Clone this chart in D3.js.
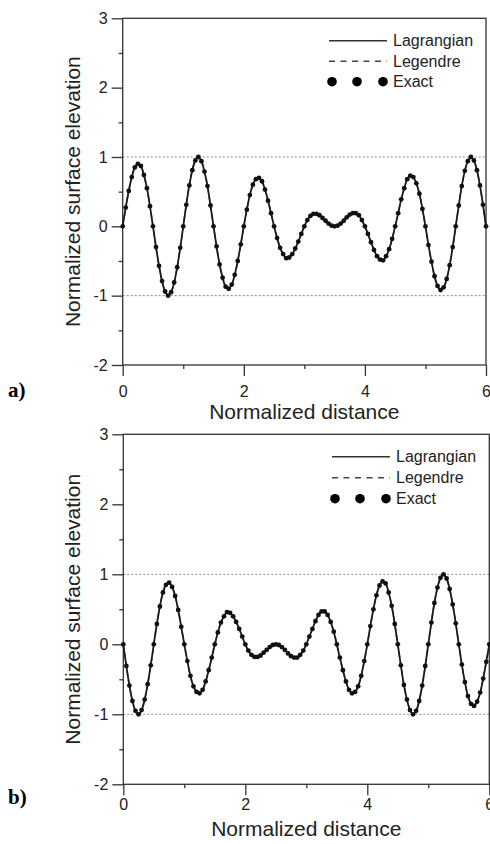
<!DOCTYPE html>
<html>
<head>
<meta charset="utf-8">
<script src="https://cdn.jsdelivr.net/npm/d3@7"></script>
<style>
  body { margin: 0; background: #fff; }
</style>
</head>
<body>
<div id="chart"></div>
<script>
// sample positions along the normalized distance axis
const distance = [
  0, 0.05, 0.1, 0.15, 0.2, 0.25, 0.3, 0.35, 0.4, 0.45,
  0.5, 0.55, 0.6, 0.65, 0.7, 0.75, 0.8, 0.85, 0.9, 0.95,
  1, 1.05, 1.1, 1.15, 1.2, 1.25, 1.3, 1.35, 1.4, 1.45,
  1.5, 1.55, 1.6, 1.65, 1.7, 1.75, 1.8, 1.85, 1.9, 1.95,
  2, 2.05, 2.1, 2.15, 2.2, 2.25, 2.3, 2.35, 2.4, 2.45,
  2.5, 2.55, 2.6, 2.65, 2.7, 2.75, 2.8, 2.85, 2.9, 2.95,
  3, 3.05, 3.1, 3.15, 3.2, 3.25, 3.3, 3.35, 3.4, 3.45,
  3.5, 3.55, 3.6, 3.65, 3.7, 3.75, 3.8, 3.85, 3.9, 3.95,
  4, 4.05, 4.1, 4.15, 4.2, 4.25, 4.3, 4.35, 4.4, 4.45,
  4.5, 4.55, 4.6, 4.65, 4.7, 4.75, 4.8, 4.85, 4.9, 4.95,
  5, 5.05, 5.1, 5.15, 5.2, 5.25, 5.3, 5.35, 5.4, 5.45,
  5.5, 5.55, 5.6, 5.65, 5.7, 5.75, 5.8, 5.85, 5.9, 5.95,
  6
];

// panel a) surface elevation
const elevationA = [
  0, 0.27, 0.51, 0.71, 0.85, 0.90, 0.87, 0.74, 0.55, 0.29,
  0, -0.30, -0.57, -0.79, -0.94, -1.00, -0.95, -0.81, -0.59, -0.31,
  0, 0.31, 0.59, 0.81, 0.95, 1.00, 0.94, 0.79, 0.58, 0.30,
  0, -0.29, -0.55, -0.74, -0.87, -0.90, -0.84, -0.70, -0.50, -0.26,
  0, 0.24, 0.45, 0.60, 0.68, 0.70, 0.65, 0.53, 0.37, 0.19,
  0, -0.17, -0.31, -0.40, -0.46, -0.45, -0.40, -0.32, -0.22, -0.11,
  0, 0.09, 0.15, 0.18, 0.18, 0.16, 0.12, 0.08, 0.04, 0.01,
  0, 0.01, 0.04, 0.08, 0.13, 0.17, 0.19, 0.19, 0.16, 0.09,
  0, -0.11, -0.23, -0.34, -0.43, -0.48, -0.49, -0.43, -0.33, -0.18,
  0, 0.19, 0.39, 0.55, 0.68, 0.73, 0.71, 0.62, 0.47, 0.25,
  0, -0.27, -0.51, -0.72, -0.86, -0.92, -0.88, -0.76, -0.56, -0.30,
  0, 0.30, 0.58, 0.80, 0.94, 1.00, 0.95, 0.81, 0.59, 0.31,
  0
];

// panel b) surface elevation
const elevationB = [
  0, -0.31, -0.59, -0.81, -0.95, -1.00, -0.94, -0.79, -0.57, -0.30,
  0, 0.29, 0.54, 0.74, 0.85, 0.88, 0.82, 0.69, 0.49, 0.25,
  0, -0.24, -0.45, -0.60, -0.68, -0.70, -0.65, -0.53, -0.37, -0.19,
  0, 0.17, 0.31, 0.40, 0.46, 0.45, 0.40, 0.32, 0.22, 0.11,
  0, -0.09, -0.15, -0.18, -0.18, -0.16, -0.12, -0.08, -0.04, -0.01,
  0, -0.01, -0.04, -0.08, -0.13, -0.17, -0.19, -0.19, -0.15, -0.09,
  0, 0.11, 0.22, 0.33, 0.42, 0.47, 0.47, 0.42, 0.32, 0.18,
  0, -0.19, -0.37, -0.53, -0.65, -0.70, -0.68, -0.60, -0.45, -0.24,
  0, 0.26, 0.50, 0.70, 0.84, 0.90, 0.87, 0.74, 0.55, 0.29,
  0, -0.30, -0.58, -0.79, -0.94, -1.00, -0.95, -0.81, -0.59, -0.31,
  0, 0.31, 0.59, 0.81, 0.95, 1.00, 0.94, 0.79, 0.57, 0.30,
  0, -0.29, -0.54, -0.74, -0.85, -0.88, -0.82, -0.69, -0.49, -0.25,
  0
];

const xMajorTicks = [0, 2, 4, 6];
const xMinorTicks = [1, 3, 5];
const yMajorTicks = [-2, -1, 0, 1, 2, 3];
const yMinorTicks = [-1.5, -0.5, 0.5, 1.5, 2.5];
const refLevels = [-1, 1];
const legendLabels = ["Lagrangian", "Legendre", "Exact"];

const width = 490;
const height = 844;
const font = "'Liberation Sans', Arial, sans-serif";
const axisColor = "#333";

const svg = d3.select("#chart")
  .append("svg")
  .attr("width", width)
  .attr("height", height);

const panels = [
  { tag: "a)", values: elevationA, left: 122.7, right: 486, top: 18.3, bottom: 365,
    labelGap: 10, titleY: 419, tagY: 397, legendX: 329, legendY: 40.7, legendStep: 20.5 },
  { tag: "b)", values: elevationB, left: 123.3, right: 489.3, top: 434.3, bottom: 784.3,
    labelGap: 3, titleY: 836, tagY: 804, legendX: 332, legendY: 456.7, legendStep: 21 }
];

function drawPanel(p) {
  const x = d3.scaleLinear().domain([0, 6]).range([p.left, p.right]);
  const y = d3.scaleLinear().domain([-2, 3]).range([p.bottom, p.top]);
  const g = svg.append("g");

  // dotted lines at +1 / -1
  g.selectAll("line.ref")
    .data(refLevels)
    .join("line")
    .attr("class", "ref")
    .attr("x1", p.left).attr("x2", p.right)
    .attr("y1", d => y(d)).attr("y2", d => y(d))
    .attr("stroke", "#8a8a8a")
    .attr("stroke-width", 1)
    .attr("stroke-dasharray", "2,2");

  // minor ticks
  g.append("g")
    .attr("transform", `translate(0,${p.bottom})`)
    .call(d3.axisBottom(x).tickValues(xMinorTicks).tickSize(4).tickSizeOuter(0).tickFormat(""));
  g.append("g")
    .attr("transform", `translate(${p.left},0)`)
    .call(d3.axisLeft(y).tickValues(yMinorTicks).tickSize(4).tickSizeOuter(0).tickFormat(""));

  // major ticks with labels
  g.append("g")
    .attr("transform", `translate(0,${p.bottom})`)
    .call(d3.axisBottom(x).tickValues(xMajorTicks).tickSize(11).tickSizeOuter(0)
      .tickPadding(p.labelGap).tickFormat(d => String(d)));
  g.append("g")
    .attr("transform", `translate(${p.left},0)`)
    .call(d3.axisLeft(y).tickValues(yMajorTicks).tickSize(11).tickSizeOuter(0)
      .tickPadding(4).tickFormat(d => String(d)));

  g.selectAll(".domain").remove();
  g.selectAll(".tick line").attr("stroke", axisColor).attr("stroke-width", 1.3);
  g.selectAll(".tick text")
    .attr("font-family", font)
    .attr("font-size", 16)
    .attr("fill", "#222");

  // frame
  g.append("rect")
    .attr("x", p.left).attr("y", p.top)
    .attr("width", p.right - p.left).attr("height", p.bottom - p.top)
    .attr("fill", "none")
    .attr("stroke", axisColor)
    .attr("stroke-width", 1.3);

  const pts = distance.map((d, i) => [d, p.values[i]]);
  const line = d3.line()
    .x(d => x(d[0]))
    .y(d => y(d[1]))
    .curve(d3.curveCatmullRom);

  // Legendre (dashed) under Lagrangian (solid); they coincide
  g.append("path")
    .attr("d", line(pts))
    .attr("fill", "none")
    .attr("stroke", "#444")
    .attr("stroke-width", 1.4)
    .attr("stroke-dasharray", "5,4");
  g.append("path")
    .attr("d", line(pts))
    .attr("fill", "none")
    .attr("stroke", "#1a1a1a")
    .attr("stroke-width", 1.8);

  // exact solution points
  g.selectAll("circle.exact")
    .data(pts)
    .join("circle")
    .attr("class", "exact")
    .attr("cx", d => x(d[0]))
    .attr("cy", d => y(d[1]))
    .attr("r", 2.4)
    .attr("fill", "#111");

  // axis titles
  g.append("text")
    .attr("x", (p.left + p.right) / 2)
    .attr("y", p.titleY)
    .attr("text-anchor", "middle")
    .attr("font-family", font)
    .attr("font-size", 21)
    .attr("fill", "#222")
    .text("Normalized distance");
  g.append("text")
    .attr("transform", `translate(80,${(p.top + p.bottom) / 2}) rotate(-90)`)
    .attr("text-anchor", "middle")
    .attr("font-family", font)
    .attr("font-size", 21)
    .attr("fill", "#222")
    .text("Normalized surface elevation");

  // panel tag
  g.append("text")
    .attr("x", 8)
    .attr("y", p.tagY)
    .attr("font-family", "'Liberation Serif', 'Times New Roman', serif")
    .attr("font-weight", "bold")
    .attr("font-size", 21)
    .attr("fill", "#000")
    .text(p.tag);

  // legend
  const lg = g.append("g").attr("transform", `translate(${p.legendX},${p.legendY})`);
  lg.append("line")
    .attr("x1", 0).attr("x2", 58).attr("y1", 0).attr("y2", 0)
    .attr("stroke", "#333").attr("stroke-width", 1.5);
  lg.append("line")
    .attr("x1", 0).attr("x2", 58).attr("y1", p.legendStep).attr("y2", p.legendStep)
    .attr("stroke", "#444").attr("stroke-width", 1.5)
    .attr("stroke-dasharray", "6,5.5");
  lg.selectAll("circle")
    .data([3, 28, 54])
    .join("circle")
    .attr("cx", d => d)
    .attr("cy", 2 * p.legendStep)
    .attr("r", 4.8)
    .attr("fill", "#000");
  lg.selectAll("text")
    .data(legendLabels)
    .join("text")
    .attr("x", 64)
    .attr("y", (d, i) => i * p.legendStep)
    .attr("dy", "0.36em")
    .attr("font-family", font)
    .attr("font-size", 16)
    .attr("fill", "#222")
    .text(d => d);
}

panels.forEach(drawPanel);
</script>
</body>
</html>
